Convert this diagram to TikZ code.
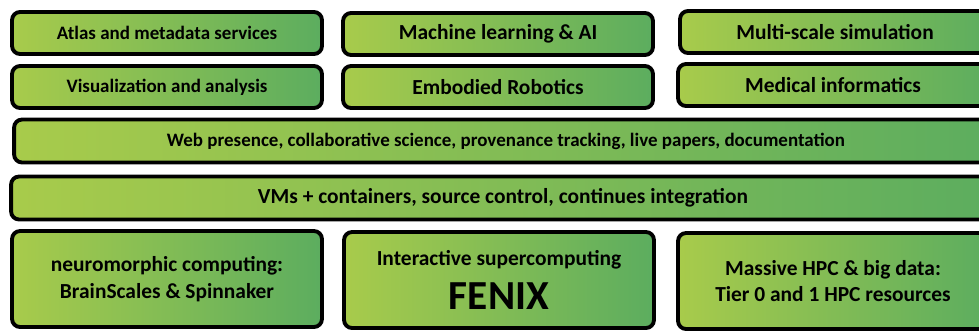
\documentclass[tikz,border=0pt]{standalone}
\usepackage{fontspec}
\setmainfont{Carlito}
\usetikzlibrary{positioning,shadows}
\definecolor{leafgreen}{HTML}{A8CB4B}
\definecolor{mossgreen}{HTML}{5CAD5F}

\begin{document}
\begin{tikzpicture}[x=0.02cm, y=-0.02cm,
    layer/.style={rectangle, draw=black, line width=2.2pt, rounded corners=0.16cm, left color=leafgreen, right color=mossgreen, align=center, inner sep=0pt, drop shadow={shadow xshift=0.6pt, shadow yshift=-0.6pt, fill=black!30}},
    tile/.style={layer, minimum width=6.2cm, minimum height=0.84cm},
    bar/.style={layer, minimum width=19.68cm, minimum height=0.86cm},
    base/.style={layer, minimum width=6.2cm, minimum height=1.92cm},
    smalltext/.style={font=\bfseries\fontsize{10.8}{13}\selectfont},
    bigtext/.style={font=\bfseries\fontsize{12.2}{15}\selectfont}
]
\useasboundingbox (0,0) rectangle (979,332);
\clip (0,0) rectangle (979,332);

\node[tile, smalltext] (atlas) at (167,33) {Atlas and metadata services};
\node[tile, bigtext] (learning) at (498,34) {Machine learning \& AI};
\node[tile, bigtext] (multiscale) at (835,32) {Multi-scale simulation};

\node[tile, smalltext] (visual) at (167,87) {Visualization and analysis};
\node[tile, bigtext] (robotics) at (498,87) {Embodied Robotics};
\node[tile, bigtext] (medical) at (833,85) {Medical informatics};

\node[bar, smalltext] (web) at (506,141) {Web presence, collaborative science, provenance tracking, live papers, documentation};
\node[bar, bigtext] (vms) at (503,198) {VMs + containers, source control, continues integration};

\node[base, bigtext] (neuro) at (167,279) {neuromorphic computing:\\BrainScales \& Spinnaker};
\node[base, bigtext] (fenix) at (499,280) {Interactive supercomputing\\[7pt]{\fontsize{23.5}{28}\selectfont FENIX}};
\node[base, bigtext] (hpc) at (833,281) {Massive HPC \& big data:\\Tier 0 and 1 HPC resources};

\end{tikzpicture}
\end{document}
